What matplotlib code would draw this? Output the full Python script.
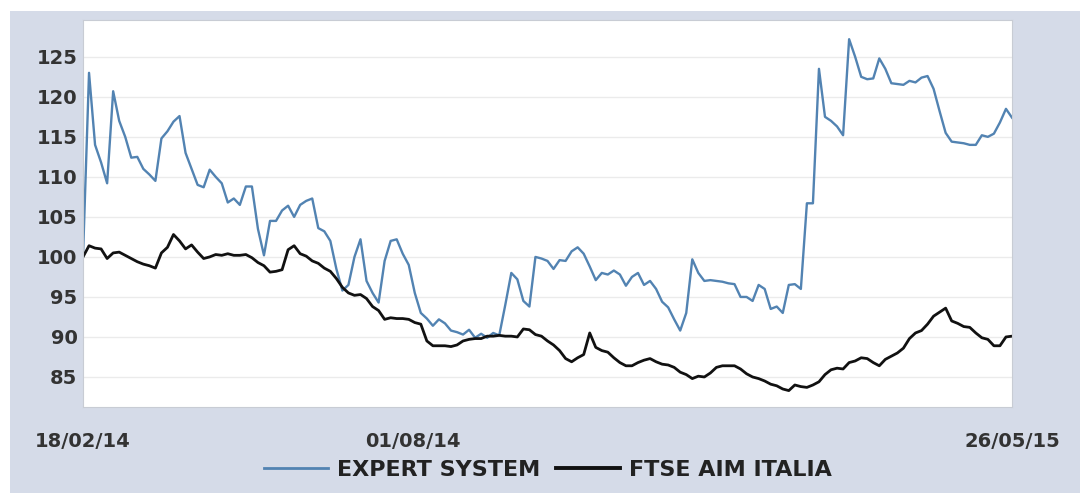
import numpy as np
import pandas as pd
import matplotlib
matplotlib.use("Agg")
import matplotlib.pyplot as plt
import matplotlib.dates as mdates
from matplotlib.patches import Rectangle

# date range of the chart (one point every 3 days)
start_date = "2014-02-18"
end_date = "2015-05-26"
n_points = 155

expert_system = [
    100, 123, 114, 111.8, 109.2, 120.7, 117, 115, 112.4, 112.5,
    111, 110.3, 109.5, 114.8, 115.7, 116.9, 117.6, 113, 111, 109,
    108.7, 110.9, 110, 109.2, 106.8, 107.3, 106.5, 108.8, 108.8, 103.5,
    100.2, 104.5, 104.5, 105.8, 106.4, 105, 106.5, 107, 107.3, 103.6,
    103.2, 102, 98.5, 95.8, 96.5, 100, 102.2, 97, 95.5, 94.3,
    99.5, 102, 102.2, 100.4, 99, 95.5, 93, 92.3, 91.4, 92.2,
    91.7, 90.8, 90.6, 90.3, 90.9, 89.9, 90.4, 89.9, 90.5, 90.2,
    94, 98, 97.2, 94.5, 93.8, 100, 99.8, 99.5, 98.5, 99.6,
    99.5, 100.7, 101.2, 100.4, 98.8, 97.1, 98, 97.8, 98.3, 97.8,
    96.4, 97.5, 98, 96.5, 97, 96, 94.4, 93.7, 92.2, 90.8,
    93, 99.7, 98, 97, 97.1, 97, 96.9, 96.7, 96.6, 95,
    95, 94.5, 96.5, 96, 93.5, 93.8, 93, 96.5, 96.6, 96,
    106.7, 106.7, 123.5, 117.5, 117, 116.3, 115.2, 127.2, 125, 122.5,
    122.2, 122.3, 124.8, 123.5, 121.7, 121.6, 121.5, 122, 121.8, 122.4,
    122.6, 121, 118.2, 115.5, 114.4, 114.3, 114.2, 114, 114, 115.2,
    115, 115.4, 116.8, 118.5, 117.4,
]

ftse_aim_italia = [
    100, 101.4, 101.1, 101, 99.8, 100.5, 100.6, 100.2, 99.8, 99.4,
    99.1, 98.9, 98.6, 100.5, 101.2, 102.8, 102, 101, 101.5, 100.6,
    99.8, 100, 100.3, 100.2, 100.4, 100.2, 100.2, 100.3, 99.9, 99.3,
    98.9, 98.1, 98.2, 98.4, 100.9, 101.4, 100.4, 100.1, 99.5, 99.2,
    98.6, 98.2, 97.3, 96.2, 95.5, 95.2, 95.3, 94.8, 93.8, 93.3,
    92.2, 92.4, 92.3, 92.3, 92.2, 91.8, 91.6, 89.5, 88.9, 88.9,
    88.9, 88.8, 89, 89.5, 89.7, 89.8, 89.8, 90.1, 90.1, 90.2,
    90.1, 90.1, 90, 91, 90.9, 90.3, 90.1, 89.5, 89, 88.3,
    87.3, 86.9, 87.4, 87.8, 90.5, 88.7, 88.3, 88.1, 87.4, 86.8,
    86.4, 86.4, 86.8, 87.1, 87.3, 86.9, 86.6, 86.5, 86.2, 85.6,
    85.3, 84.8, 85.1, 85, 85.5, 86.2, 86.4, 86.4, 86.4, 86,
    85.4, 85, 84.8, 84.5, 84.1, 83.9, 83.5, 83.3, 84, 83.8,
    83.7, 84, 84.4, 85.3, 85.9, 86.1, 86, 86.8, 87, 87.4,
    87.3, 86.8, 86.4, 87.2, 87.6, 88, 88.6, 89.8, 90.5, 90.8,
    91.6, 92.6, 93.1, 93.6, 92, 91.7, 91.3, 91.2, 90.5, 89.9,
    89.7, 88.9, 88.9, 90, 90.1,
]

y_ticks = [85, 90, 95, 100, 105, 110, 115, 120, 125]
x_tick_dates = ["2014-02-18", "2014-08-01", "2015-05-26"]

dates = pd.date_range(start_date, end_date, periods=n_points)

fig = plt.figure(figsize=(10.8, 4.93), dpi=100)
fig.patch.set_facecolor("white")

# grey-blue panel behind the chart
fig.patches.append(Rectangle((10 / 1080, 0), 1 - 10 / 1080, 1 - 11 / 493,
                             transform=fig.transFigure, facecolor="#d5dbe8",
                             edgecolor="none", zorder=-10))

ax = fig.add_axes([83 / 1080, 1 - 407 / 493, (1012 - 83) / 1080, (407 - 20) / 493])
ax.set_zorder(5)
ax.set_facecolor("white")

ax.plot(dates, expert_system, color="#5283b2", linewidth=1.7, label="EXPERT SYSTEM")
ax.plot(dates, ftse_aim_italia, color="#111111", linewidth=2.0, label="FTSE AIM ITALIA")

ax.set_ylim(81.25, 129.6)
ax.set_xlim(pd.Timestamp(start_date), pd.Timestamp(end_date))

ax.set_yticks(y_ticks)
ax.set_xticks([pd.Timestamp(d) for d in x_tick_dates])
ax.xaxis.set_major_formatter(mdates.DateFormatter("%d/%m/%y"))

ax.grid(axis="y", color="#ebebeb", linewidth=1.0)
ax.set_axisbelow(True)
ax.tick_params(length=0, colors="#333333", labelsize=14)
ax.tick_params(axis="y", pad=4)
ax.tick_params(axis="x", pad=18)
for lbl in ax.get_xticklabels() + ax.get_yticklabels():
    lbl.set_fontweight("bold")

for side in ax.spines.values():
    side.set_color("#c8ccd4")
    side.set_linewidth(0.8)

leg = fig.legend(loc="center", bbox_to_anchor=(548 / 1080, 1 - 470 / 493), ncol=2,
                 frameon=False, handlelength=2.9, columnspacing=0.7, handletextpad=0.4,
                 prop={"weight": "bold", "size": 16}, labelcolor="#222222")
leg.get_lines()[0].set_linewidth(2.0)
leg.get_lines()[1].set_linewidth(2.8)

fig.savefig("out.png", dpi=100, facecolor=fig.get_facecolor())
